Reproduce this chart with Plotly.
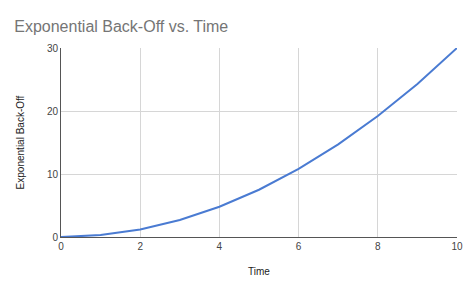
import plotly.graph_objects as go

time = [0, 1, 2, 3, 4, 5, 6, 7, 8, 9, 10]
backoff = [0, 0.3, 1.2, 2.7, 4.8, 7.5, 10.8, 14.7, 19.2, 24.3, 30]
x_ticks = [0, 2, 4, 6, 8, 10]
y_ticks = [0, 10, 20, 30]

fig = go.Figure()
fig.add_trace(go.Scatter(x=time, y=backoff, mode="lines",
                         line=dict(color="#4a7bd2", width=2), showlegend=False))

fig.update_layout(
    width=474, height=293,
    margin=dict(l=61, r=11, t=48, b=56),
    paper_bgcolor="white", plot_bgcolor="white",
    font=dict(family="Liberation Sans, Arial, sans-serif", color="#444444", size=10),
    title=dict(text="Exponential Back-Off vs. Time", x=0.03, xanchor="left",
               y=0.91, yanchor="middle",
               font=dict(size=16, color="#757575")),
)
fig.update_xaxes(range=[0, 10], tickvals=x_ticks, showgrid=True, gridcolor="#d6d6d6",
                 showline=True, linecolor="#555555", linewidth=1, zeroline=False,
                 ticks="", title=dict(text="Time", font=dict(size=10, color="#222222"), standoff=16),
                 tickfont=dict(size=10, color="#444444"), mirror=False)
fig.update_yaxes(range=[0, 30], tickvals=y_ticks, showgrid=True, gridcolor="#d6d6d6",
                 showline=True, linecolor="#555555", linewidth=1, zeroline=False,
                 ticks="", title=dict(text="Exponential Back-Off", font=dict(size=10, color="#222222"), standoff=20),
                 tickfont=dict(size=10, color="#444444"))

fig.write_html("out.html")
